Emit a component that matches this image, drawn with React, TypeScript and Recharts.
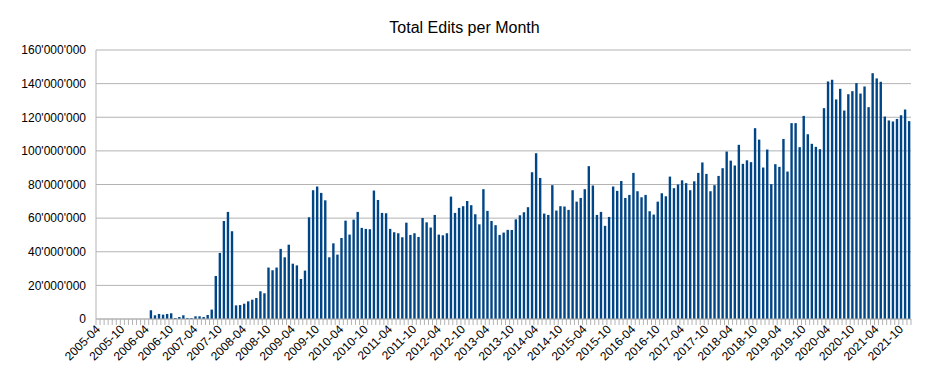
import { BarChart, Bar, XAxis, YAxis, CartesianGrid } from 'recharts';

const FIRST_YEAR = 2005;
const FIRST_MONTH = 4;

// total edits per month, millions, 2005-04 .. 2021-12
const editsMillions = [
  0, 0, 0, 0, 0, 0, 0, 0, 0, 0, 0, 0,
  0, 5.2, 2.2, 3.0, 2.6, 3.0, 3.4, 0.6, 1.2, 2.2, 0.6, 0.6,
  1.6, 1.6, 1.2, 2.4, 5.6, 25.6, 39.3, 58.3, 63.7, 52.2, 8.1, 8.3,
  9.1, 10.5, 11.5, 12.5, 16.5, 15.3, 30.6, 29.0, 30.6, 41.7, 36.7, 44.2,
  32.9, 31.9, 23.8, 28.8, 60.5, 76.6, 78.8, 75.0, 70.6, 36.7, 45.0, 38.3,
  48.2, 58.5, 50.2, 59.1, 63.7, 54.2, 53.6, 53.4, 76.4, 70.8, 63.1, 62.9,
  53.6, 51.6, 51.0, 48.6, 57.3, 50.0, 51.0, 48.8, 60.1, 57.5, 54.4, 61.9,
  50.2, 49.8, 51.0, 72.8, 63.1, 66.1, 67.1, 70.2, 67.7, 62.3, 56.3, 77.2,
  64.3, 58.3, 55.8, 50.0, 51.4, 53.0, 53.0, 59.3, 61.7, 63.5, 66.5, 87.3,
  98.6, 83.9, 62.7, 61.9, 79.6, 64.5, 67.1, 66.9, 64.9, 76.6, 69.8, 72.0,
  77.2, 90.9, 79.4, 61.9, 63.7, 55.4, 60.7, 78.8, 76.2, 82.1, 72.0, 73.8,
  86.9, 76.0, 72.4, 73.8, 64.1, 62.1, 69.8, 74.8, 73.0, 84.7, 77.8, 80.0,
  82.5, 80.8, 76.6, 81.9, 86.9, 93.1, 86.3, 76.0, 79.6, 85.1, 89.7, 99.6,
  94.2, 91.3, 103.6, 92.3, 94.4, 93.3, 113.5, 106.7, 90.1, 100.8, 80.2, 92.1,
  90.5, 107.1, 87.7, 116.5, 116.5, 102.2, 120.8, 109.9, 104.2, 102.4, 101.0, 125.4,
  141.3, 142.3, 130.6, 136.9, 124.0, 133.7, 135.5, 140.3, 134.1, 138.3, 126.0, 146.2,
  143.1, 141.1, 120.4, 118.1, 117.5, 119.0, 121.2, 124.6, 117.7,
];

const months = editsMillions.map((_, i) => {
  const m = FIRST_MONTH - 1 + i;
  const y = FIRST_YEAR + Math.floor(m / 12);
  return `${y}-${String((m % 12) + 1).padStart(2, '0')}`;
});

const yTicks = [0, 20e6, 40e6, 60e6, 80e6, 100e6, 120e6, 140e6, 160e6];

const data = months.map((month, i) => ({ month, edits: editsMillions[i] * 1e6 }));

const W = 929;
const H = 387;
const Y_AXIS_W = 96;
const RIGHT = 18;
const step = (W - Y_AXIS_W - RIGHT) / months.length;
const GRID = '#b3b3b3';
const FONT = '"Liberation Sans", Arial, sans-serif';

const fmt = (v: number) => v.toLocaleString('en-US').replace(/,/g, "'");

function MonthTick(props: any) {
  const { x, y, index, payload } = props;
  const left = x - step / 2;
  const tx = x + 3;
  const ty = y + 11;
  return (
    <g>
      <line x1={left} x2={left} y1={y} y2={y + 6} stroke={GRID} />
      {index === months.length - 1 && (
        <line x1={x + step / 2} x2={x + step / 2} y1={y} y2={y + 6} stroke={GRID} />
      )}
      {index % 6 === 0 && (
        <text
          x={tx}
          y={ty}
          textAnchor="end"
          transform={`rotate(-45 ${tx} ${ty})`}
          fontSize={12}
          fontFamily={FONT}
          fill="#000"
        >
          {payload.value}
        </text>
      )}
    </g>
  );
}

export default function App() {
  return (
    <div style={{ position: 'absolute', left: 0, top: 0, width: W, height: H, background: '#fff', fontFamily: FONT }}>
      <div style={{ position: 'absolute', top: 19, left: 0, width: W, textAlign: 'center', fontSize: 16, lineHeight: '18px', color: '#000' }}>
        Total Edits per Month
      </div>
      <BarChart width={W} height={H} data={data} margin={{ top: 50, right: RIGHT, bottom: 0, left: 0 }}>
        <CartesianGrid vertical={false} stroke={GRID} />
        <XAxis
          dataKey="month"
          interval={0}
          height={68}
          tickSize={0}
          tickMargin={0}
          tickLine={false}
          axisLine={{ stroke: GRID }}
          tick={<MonthTick />}
        />
        <YAxis
          domain={[0, 160e6]}
          ticks={yTicks}
          interval={0}
          tickFormatter={fmt}
          width={Y_AXIS_W}
          tickLine={false}
          tickSize={0}
          tickMargin={10}
          axisLine={{ stroke: GRID }}
          tick={{ fill: '#000', fontSize: 12, fontFamily: FONT }}
        />
        <YAxis
          yAxisId="frame"
          orientation="right"
          domain={[0, 160e6]}
          width={0}
          tick={false}
          tickLine={false}
          axisLine={{ stroke: GRID }}
        />
        <Bar dataKey="edits" fill="#004586" barSize={2.4} isAnimationActive={false} />
      </BarChart>
    </div>
  );
}
